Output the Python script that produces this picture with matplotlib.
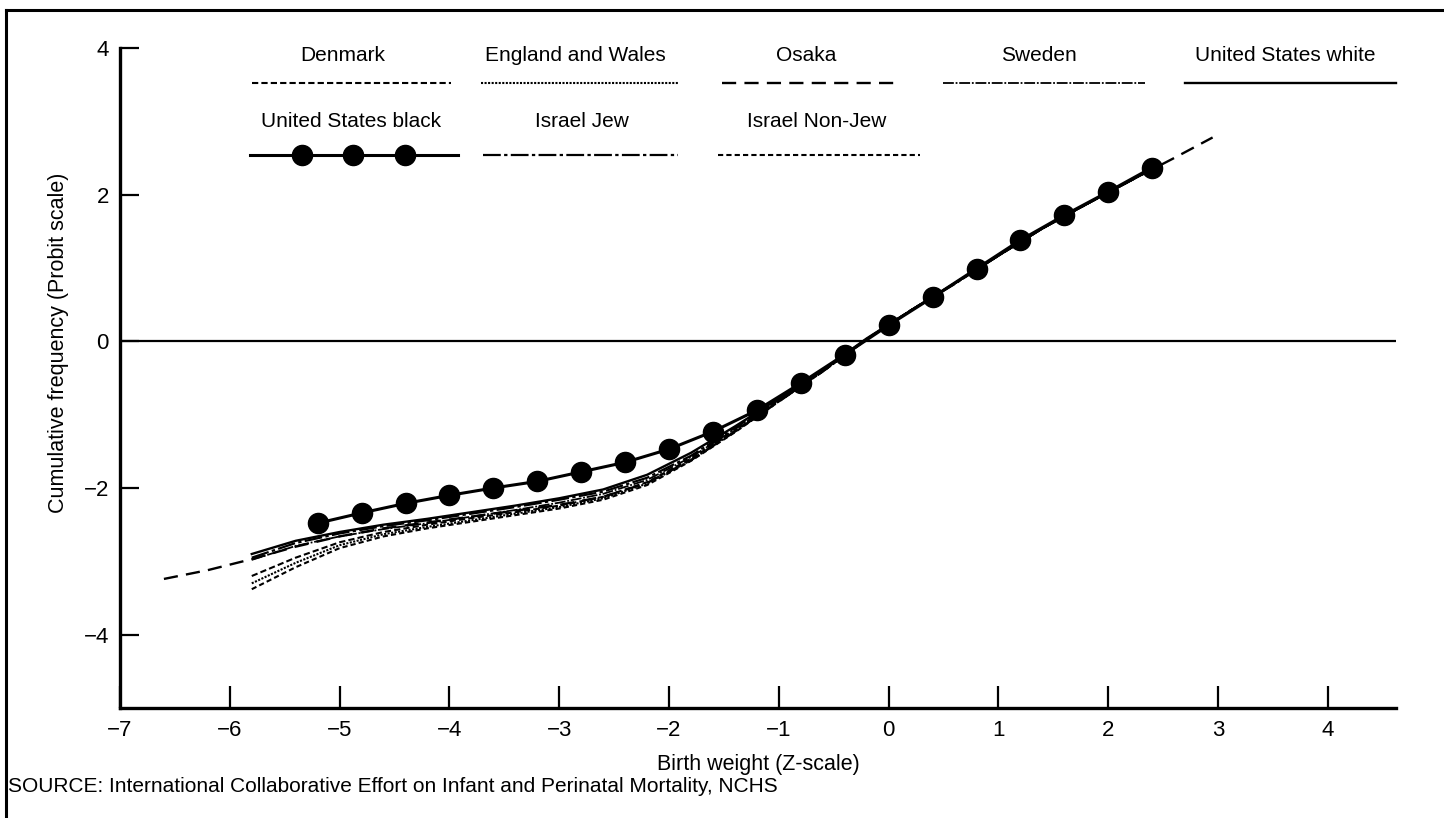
import matplotlib
matplotlib.use("Agg")
import matplotlib.pyplot as plt
from matplotlib.lines import Line2D

plt.rcParams['font.family'] = ['Liberation Sans', 'DejaVu Sans']

# ---- data ----
bundle_x = [-5.8, -5.4, -5.0, -4.6, -4.2, -3.8, -3.4, -3.0, -2.6, -2.2, -1.8,
            -1.4, -1.0, -0.6, -0.2, 0.2, 0.6, 1.0, 1.4, 1.8, 2.2, 2.4]

denmark = [-3.20, -2.95, -2.74, -2.60, -2.50, -2.41, -2.33, -2.24, -2.12, -1.92, -1.60,
           -1.22, -0.81, -0.41, 0.03, 0.42, 0.79, 1.17, 1.54, 1.87, 2.19, 2.36]
england_wales = [-3.30, -3.02, -2.78, -2.63, -2.53, -2.44, -2.35, -2.26, -2.14, -1.94, -1.62,
                 -1.23, -0.82, -0.41, 0.03, 0.42, 0.79, 1.17, 1.54, 1.87, 2.19, 2.36]
sweden = [-2.98, -2.79, -2.66, -2.56, -2.48, -2.39, -2.30, -2.20, -2.08, -1.89, -1.58,
          -1.20, -0.80, -0.40, 0.03, 0.42, 0.79, 1.17, 1.54, 1.87, 2.19, 2.36]
us_white = [-2.90, -2.72, -2.60, -2.50, -2.42, -2.33, -2.24, -2.14, -2.02, -1.82, -1.52,
            -1.16, -0.78, -0.39, 0.04, 0.42, 0.79, 1.17, 1.54, 1.87, 2.19, 2.35]
israel_jew = [-2.95, -2.75, -2.62, -2.52, -2.44, -2.35, -2.26, -2.16, -2.05, -1.86, -1.56,
              -1.18, -0.80, -0.40, 0.03, 0.42, 0.78, 1.17, 1.54, 1.87, 2.19, 2.35]
israel_nonjew = [-3.38, -3.08, -2.82, -2.66, -2.55, -2.46, -2.37, -2.28, -2.16, -1.96, -1.63,
                 -1.24, -0.82, -0.41, 0.03, 0.42, 0.79, 1.17, 1.54, 1.87, 2.19, 2.36]

osaka_x = [-6.6, -6.2, -5.8, -5.4, -5.0, -4.6, -4.2, -3.8, -3.4, -3.0, -2.6, -2.2,
           -1.8, -1.4, -1.0, -0.6, -0.2, 0.2, 0.6, 1.0, 1.4, 1.8, 2.2, 2.6, 2.95]
osaka = [-3.24, -3.12, -2.97, -2.80, -2.66, -2.55, -2.47, -2.39, -2.31, -2.23, -2.12, -1.93,
         -1.62, -1.23, -0.82, -0.41, 0.03, 0.42, 0.79, 1.17, 1.54, 1.87, 2.19, 2.50, 2.78]

us_black_x = [-5.2, -4.8, -4.4, -4.0, -3.6, -3.2, -2.8, -2.4, -2.0, -1.6,
              -1.2, -0.8, -0.4, 0.0, 0.4, 0.8, 1.2, 1.6, 2.0, 2.4]
us_black = [-2.48, -2.34, -2.21, -2.10, -2.00, -1.91, -1.78, -1.65, -1.47, -1.23,
            -0.94, -0.57, -0.18, 0.22, 0.60, 0.99, 1.38, 1.72, 2.04, 2.37]

x_ticks = [-7, -6, -5, -4, -3, -2, -1, 0, 1, 2, 3, 4]
y_ticks = [-4, -2, 0, 2, 4]

# line styles
styles = {
    'Denmark': dict(ls=(0, (3, 1.5)), lw=1.5),
    'England and Wales': dict(ls=(0, (1, 0.7)), lw=1.5),
    'Osaka': dict(ls=(0, (6, 3.5)), lw=1.7),
    'Sweden': dict(ls=(0, (6, 1, 1, 1)), lw=1.3),
    'United States white': dict(ls='-', lw=1.7),
    'Israel Jew': dict(ls=(0, (8, 1.5, 1.5, 1.5)), lw=1.6),
    'Israel Non-Jew': dict(ls=(0, (2.5, 1.5)), lw=1.5),
}

# legend layout in axes fraction: (line x0, line x1, label center, row)
leg = {
    'Denmark': (0.1034, 0.2594, 0.1748, 0),
    'England and Wales': (0.2829, 0.4373, 0.3566, 0),
    'Osaka': (0.4718, 0.6089, 0.5376, 0),
    'Sweden': (0.6450, 0.8033, 0.7202, 0),
    'United States white': (0.8346, 1.0, 0.9130, 0),
    'United States black': (0.1019, 0.2649, 0.1810, 1),
    'Israel Jew': (0.2845, 0.4373, 0.3620, 1),
    'Israel Non-Jew': (0.4687, 0.6270, 0.5462, 1),
}
row_text_y = [0.989, 0.888]
row_line_y = [0.947, 0.838]

fig = plt.figure(figsize=(14.44, 8.18), dpi=100)
ax = fig.add_axes([120 / 1444, 1 - 708 / 818, 1276 / 1444, 660 / 818])

series = [
    ('Denmark', bundle_x, denmark),
    ('England and Wales', bundle_x, england_wales),
    ('Sweden', bundle_x, sweden),
    ('United States white', bundle_x, us_white),
    ('Israel Jew', bundle_x, israel_jew),
    ('Israel Non-Jew', bundle_x, israel_nonjew),
    ('Osaka', osaka_x, osaka),
]
for name, xs, ys in series:
    ax.plot(xs, ys, color='black', **styles[name])

ax.plot(us_black_x, us_black, color='black', lw=2.2, marker='o', markersize=14.5)

ax.axhline(0, color='black', lw=1.6)

ax.set_xlim(-7, 4.62)
ax.set_ylim(-5, 4)
ax.set_xticks(x_ticks)
ax.set_yticks(y_ticks)
ax.set_xticklabels([str(v).replace('-', '\u2212') for v in x_ticks])
ax.set_yticklabels([str(v).replace('-', '\u2212') for v in y_ticks])
ax.tick_params(axis='x', direction='in', length=16, width=1.6, pad=9, labelsize=16)
ax.tick_params(axis='y', direction='in', length=14, width=1.6, pad=8, labelsize=16)
for s in ['top', 'right']:
    ax.spines[s].set_visible(False)
for s in ['left', 'bottom']:
    ax.spines[s].set_linewidth(2.4)

ax.set_xlabel('Birth weight (Z-scale)', fontsize=15.5)
ax.xaxis.set_label_coords(0.5, -0.085)
ax.xaxis.label.set_va('center')
ax.set_ylabel('Cumulative frequency (Probit scale)', fontsize=15.5)
ax.yaxis.set_label_coords(-0.048, 0.553)
ax.yaxis.label.set_va('center')

# legend, drawn by hand (labels above line samples)
for name, (x0, x1, xc, row) in leg.items():
    ax.text(xc, row_text_y[row], name, transform=ax.transAxes, ha='center',
            va='center', fontsize=15)
    if name == 'United States black':
        ax.plot([x0, x1], [row_line_y[row]] * 2, color='black', lw=2.2,
                transform=ax.transAxes, clip_on=False)
        ax.plot([0.1426, 0.1826, 0.2234], [row_line_y[row]] * 3, 'o', color='black',
                markersize=14.5, transform=ax.transAxes, clip_on=False)
    else:
        ax.plot([x0, x1], [row_line_y[row]] * 2, color='black',
                transform=ax.transAxes, clip_on=False, **styles[name])

fig.text(8 / 1444, 1 - 787 / 818,
         'SOURCE: International Collaborative Effort on Infant and Perinatal Mortality, NCHS',
         ha='left', va='center', fontsize=15)

# page frame (top and left edges)
fig.add_artist(Line2D([6 / 1444, 6 / 1444], [0, 1 - 10 / 818], color='black', lw=2.2,
                      transform=fig.transFigure))
fig.add_artist(Line2D([6 / 1444, 1], [1 - 10 / 818, 1 - 10 / 818], color='black', lw=2.2,
                      transform=fig.transFigure))

fig.savefig('out.png', dpi=100)
